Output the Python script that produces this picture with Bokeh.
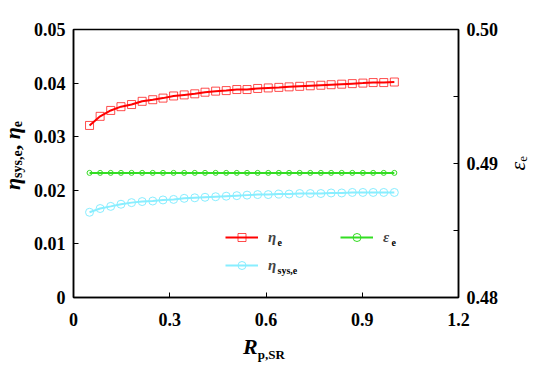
from bokeh.plotting import figure
from bokeh.layouts import row, column
from bokeh.models import (Range1d, LinearAxis, FixedTicker, CustomJSTickFormatter,
                          Legend, LegendItem, Label, Div)
from bokeh.embed import file_html
from bokeh.resources import INLINE
from bokeh.core.properties import value

# ---- data ----
r_p_sr = [0.050, 0.083, 0.116, 0.148, 0.181, 0.214, 0.247, 0.279, 0.312, 0.345,
          0.378, 0.410, 0.443, 0.476, 0.509, 0.541, 0.574, 0.607, 0.640, 0.672,
          0.705, 0.738, 0.771, 0.803, 0.836, 0.869, 0.902, 0.934, 0.967, 1.000]
eta_e = [0.0321, 0.0338, 0.0349, 0.0356, 0.0360, 0.0366, 0.0369, 0.0372, 0.0376, 0.0378,
         0.0380, 0.0383, 0.0385, 0.0386, 0.0388, 0.0388, 0.0390, 0.0391, 0.0392, 0.0393,
         0.0394, 0.0395, 0.0396, 0.0397, 0.0398, 0.0399, 0.0400, 0.0401, 0.0401, 0.0402]
eta_sys_e = [0.0159, 0.0166, 0.0170, 0.0174, 0.0177, 0.0179, 0.0180, 0.0182, 0.0183, 0.0185,
             0.0186, 0.0187, 0.0188, 0.0189, 0.0190, 0.0191, 0.0192, 0.0192, 0.0193, 0.0193,
             0.0194, 0.0194, 0.0194, 0.0195, 0.0195, 0.0196, 0.0196, 0.0196, 0.0196, 0.0196]
eps_e = [0.4893] * 30

x_ticks = [0, 0.3, 0.6, 0.9, 1.2]
y_ticks = [0, 0.01, 0.02, 0.03, 0.04, 0.05]
y2_ticks = [0.48, 0.49, 0.50]
y2_minor = [0.485, 0.495]

FONT = "Liberation Serif"
RED = "#ff0000"
GREEN = "#33dd22"
CYAN = "#88eeff"

P_W, P_H = 479, 336

p = figure(width=P_W, height=P_H, output_backend="svg", toolbar_location=None,
           x_range=Range1d(0, 1.2), y_range=Range1d(0, 0.05),
           min_border_left=47, min_border_right=47, min_border_top=29, min_border_bottom=39)
p.extra_y_ranges = {"eps": Range1d(0.48, 0.50)}
p.xgrid.visible = False
p.ygrid.visible = False
p.outline_line_color = "black"
p.outline_line_width = 1.5
p.background_fill_color = "white"
p.border_fill_color = "white"

y2 = LinearAxis(y_range_name="eps")
p.add_layout(y2, "right")

def style_axis(ax):
    ax.axis_line_width = 1.5
    ax.axis_line_color = "black"
    ax.major_tick_in = 5
    ax.major_tick_out = 0
    ax.minor_tick_in = 0
    ax.minor_tick_out = 0
    ax.major_tick_line_color = "black"
    ax.major_label_text_font = FONT
    ax.major_label_text_font_style = "bold"
    ax.major_label_text_font_size = "18px"
    ax.major_label_text_color = "black"
    ax.axis_label = None

for ax in p.xaxis:
    style_axis(ax)
    ax.ticker = FixedTicker(ticks=x_ticks)
    ax.formatter = CustomJSTickFormatter(code="return tick == 0 ? '0' : tick.toFixed(1);")
    ax.major_label_standoff = 15
for ax in p.yaxis:
    style_axis(ax)
p.yaxis[0].ticker = FixedTicker(ticks=y_ticks)
p.yaxis[0].formatter = CustomJSTickFormatter(code="return tick == 0 ? '0' : tick.toFixed(2);")
p.yaxis[0].major_label_standoff = 8
y2.ticker = FixedTicker(ticks=y2_ticks, minor_ticks=y2_minor)
y2.minor_tick_in = 5
y2.minor_tick_line_color = "black"
y2.formatter = CustomJSTickFormatter(code="return tick.toFixed(2);")
y2.major_label_standoff = 8

# ---- series ----
l_e = p.line(r_p_sr, eta_e, line_color=RED, line_width=2)
m_e = p.scatter(r_p_sr, eta_e, marker="square", size=8, line_color=RED, line_alpha=0.7,
                fill_alpha=0, line_width=1)
l_eps = p.line(r_p_sr, eps_e, line_color=GREEN, line_width=2, y_range_name="eps")
m_eps = p.scatter(r_p_sr, eps_e, marker="circle", size=5, line_color=GREEN,
                  fill_alpha=0, line_width=1, y_range_name="eps")
l_s = p.line(r_p_sr, eta_sys_e, line_color=CYAN, line_width=2)
m_s = p.scatter(r_p_sr, eta_sys_e, marker="circle", size=8, line_color=CYAN,
                fill_alpha=0, line_width=1)

def mk_legend(items, loc):
    lg = Legend(items=items, location=loc, padding=0, margin=0, spacing=8,
                glyph_width=33, glyph_height=20, label_height=20, label_standoff=10,
                label_text_font=FONT, label_text_font_style="bold italic",
                label_text_font_size="15px", border_line_alpha=0,
                background_fill_alpha=0)
    p.add_layout(lg, "center")
    return lg

mk_legend([LegendItem(label=value("η"), renderers=[l_e, m_e]),
           LegendItem(label=value("η"), renderers=[l_s, m_s])], (152, 22))
mk_legend([LegendItem(label=value("ε"), renderers=[l_eps, m_eps])], (267, 50))

def lab(text, x, y, size, style="bold"):
    p.add_layout(Label(x=x, y=y, x_units="canvas", y_units="canvas", text=text,
                       text_font=FONT, text_font_style=style, text_font_size=size,
                       text_color="black", text_align="left",
                       text_baseline="alphabetic"))

# legend subscripts (inside the frame)
lab("e", 251, 242, "10px")
lab("sys,e", 251, 270, "10px")
lab("e", 365, 242, "10px")

# ---- axis titles as real HTML text with subscripts ----
BASE = "font-family:'Liberation Serif','Times New Roman',serif;color:black;white-space:nowrap;line-height:1;"

left_html = (
    f'<div style="{BASE}writing-mode:vertical-rl;transform:rotate(180deg);'
    f'font-weight:bold;font-size:22px;margin-left:2px;margin-top:121px;">'
    '<i>η</i><sub style="font-size:14px">sys,e</sub>, <i>η</i><sub style="font-size:14px">e</sub>'
    '</div>'
)
right_html = (
    f'<div style="{BASE}writing-mode:vertical-rl;transform:rotate(180deg);'
    f'font-size:22px;margin-left:2px;margin-top:156px;">'
    '<i>ε</i><sub style="font-size:13px">e</sub>'
    '</div>'
)
bottom_html = (
    f'<div style="{BASE}font-weight:bold;font-size:22px;margin-left:243px;">'
    '<i>R</i><sub style="font-size:13px">p,SR</sub>'
    '</div>'
)

div_l = Div(text=left_html, width=26, height=P_H, margin=0)
div_r = Div(text=right_html, width=30, height=P_H, margin=0)
div_b = Div(text=bottom_html, width=535, height=36, margin=0)

layout = column(row(div_l, p, div_r, spacing=0), div_b, spacing=0)

open("out.html", "w").write(file_html(layout, INLINE))
